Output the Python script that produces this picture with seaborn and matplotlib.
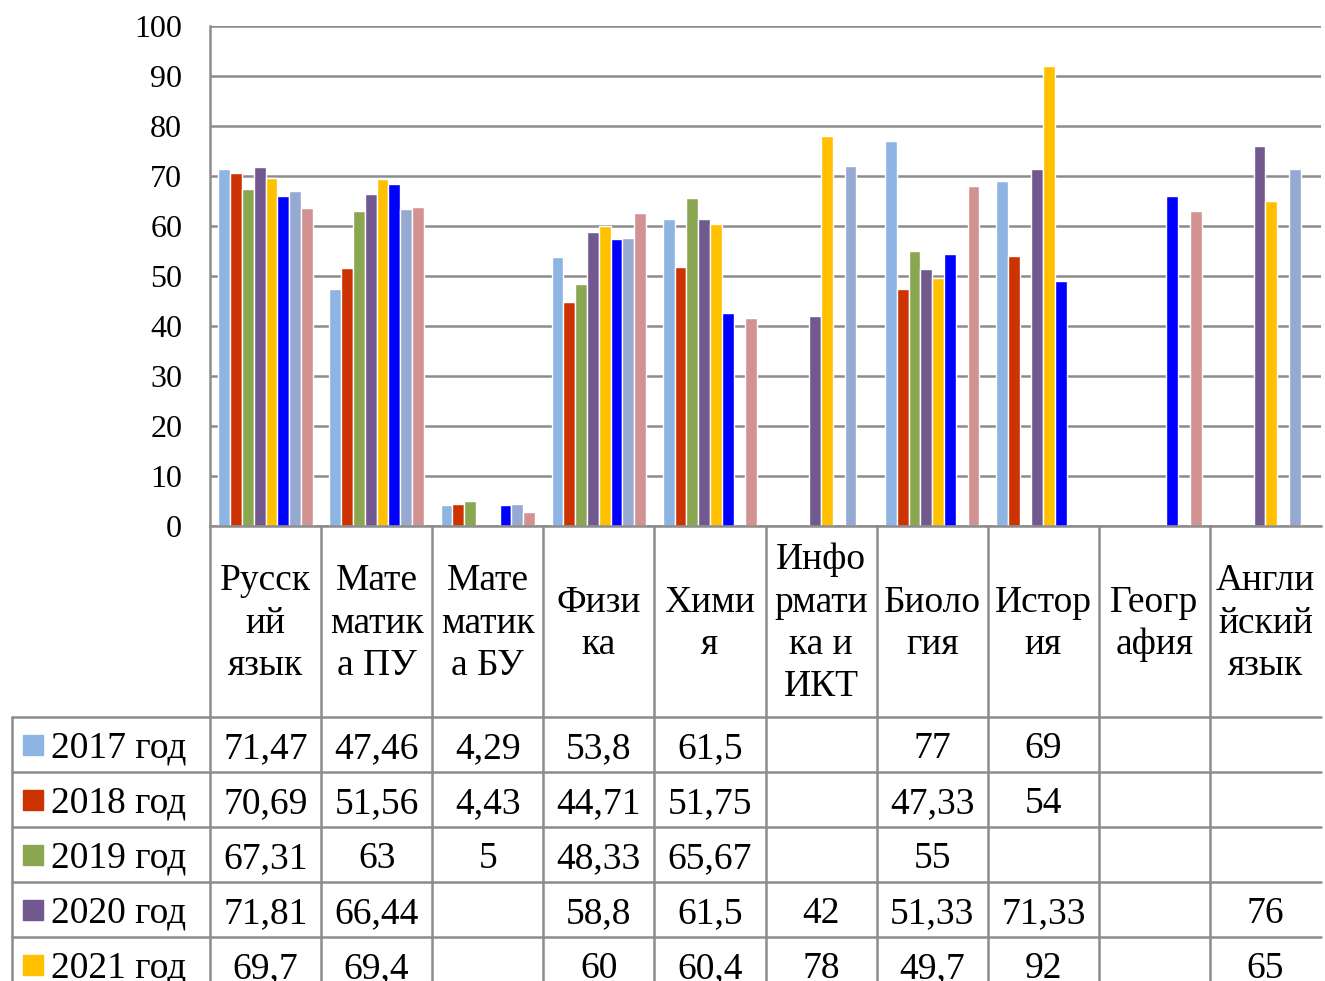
import numpy as np
import pandas as pd
import seaborn as sns
import matplotlib.pyplot as plt
from matplotlib.lines import Line2D
from matplotlib.patches import Rectangle

nan = np.nan

subjects = ["Русский язык", "Математика ПУ", "Математика БУ", "Физика", "Химия",
            "Информатика и ИКТ", "Биология", "История", "География", "Английский язык"]
# wrapped the way the table cells break them
header_labels = ["Русск\nий\nязык", "Мате\nматик\nа ПУ", "Мате\nматик\nа БУ", "Физи\nка", "Хими\nя",
                 "Инфо\nрмати\nка и\nИКТ", "Биоло\nгия", "Истор\nия", "Геогр\nафия", "Англи\nйский\nязык"]
years = ["2017 год", "2018 год", "2019 год", "2020 год", "2021 год", "2022 год", "2023 год", "2024 год"]

v2017 = [71.47, 47.46, 4.29, 53.8, 61.5, nan, 77, 69, nan, nan]
v2018 = [70.69, 51.56, 4.43, 44.71, 51.75, nan, 47.33, 54, nan, nan]
v2019 = [67.31, 63, 5, 48.33, 65.67, nan, 55, nan, nan, nan]
v2020 = [71.81, 66.44, nan, 58.8, 61.5, 42, 51.33, 71.33, nan, 76]
v2021 = [69.7, 69.4, nan, 60, 60.4, 78, 49.7, 92, nan, 65]
v2022 = [66, 68.4, 4.2, 57.5, 42.6, nan, 54.4, 49, 66, nan]
v2023 = [67, 63.4, 4.4, 57.7, nan, 72, nan, nan, nan, 71.5]
v2024 = [63.7, 63.8, 2.8, 62.7, 41.7, nan, 68, nan, 63, nan]
values = [v2017, v2018, v2019, v2020, v2021, v2022, v2023, v2024]

colors = ["#8EB4E3", "#CC3300", "#8BA650", "#71588F", "#FFC000", "#0000FF", "#95A9D1", "#D39292"]

rows = []
for yr, vals in zip(years, values):
    for s, v in zip(subjects, vals):
        rows.append({"Предмет": s, "Год": yr, "Балл": v})
df = pd.DataFrame(rows).dropna()

W, H = 1325, 981
sns.set_theme(style="white")
plt.rcParams['font.family'] = ['Liberation Serif', 'DejaVu Serif']
fig = plt.figure(figsize=(W / 100, H / 100), dpi=100)

left, right, top, bottom = 210, 1321, 26, 526
ax = fig.add_axes([left / W, 1 - bottom / H, (right - left) / W, (bottom - top) / H])

sns.barplot(data=df, x="Предмет", y="Балл", hue="Год", order=subjects, hue_order=years,
            palette=colors, width=0.85, gap=0, saturation=1, errorbar=None, legend=False, ax=ax)

grid_c = "#8C8C8C"
ax.set_xlim(-0.5, len(subjects) - 0.5)
ax.set_ylim(0, 100)
ax.set_yticks(range(0, 101, 10))
ax.yaxis.grid(True, color=grid_c, lw=1.8)
ax.set_axisbelow(True)
ax.tick_params(axis="y", length=0, pad=20, labelsize=23, colors="black")
ax.set_xticks([])
ax.set_xlabel("")
ax.set_ylabel("")
for side in ["top", "right"]:
    ax.spines[side].set_visible(False)
for side in ["left", "bottom"]:
    ax.spines[side].set_color(grid_c)
    ax.spines[side].set_linewidth(1.8)


def fx(x):
    return x / W


def fy(y):
    return 1 - y / H


# data table under the chart (the picture cuts it after the 2021 row)
col_w = (right - left) / len(subjects)
col_edges = [left + i * col_w for i in range(len(subjects) + 1)]
hdr_bottom = 717
row_h = 55
tbl_left = 12
n_rows = len(years)
tbl_bottom = hdr_bottom + row_h * n_rows

for x in col_edges[:-1]:
    fig.add_artist(Line2D([fx(x), fx(x)], [fy(bottom), fy(tbl_bottom)], color=grid_c, lw=1.8))
fig.add_artist(Line2D([fx(tbl_left), fx(tbl_left)], [fy(hdr_bottom), fy(tbl_bottom)], color=grid_c, lw=1.8))
for i in range(n_rows + 1):
    y = hdr_bottom + i * row_h
    fig.add_artist(Line2D([fx(tbl_left), fx(right)], [fy(y), fy(y)], color=grid_c, lw=1.8))

for i, lab in enumerate(header_labels):
    cx = (col_edges[i] + col_edges[i + 1]) / 2
    fig.text(fx(cx), fy((bottom + hdr_bottom) / 2 + 2), lab, ha="center", va="center",
             multialignment="center", fontsize=27, linespacing=1.3, color="black")

for r, (yr, vals, c) in enumerate(zip(years, values, colors)):
    cy = hdr_bottom + r * row_h + row_h / 2
    fig.add_artist(Rectangle((fx(23), fy(cy + 10)), 20 / W, 20 / H, color=c, transform=fig.transFigure))
    fig.text(fx(51), fy(cy), yr, ha="left", va="center_baseline", fontsize=27, color="black")
    for i, v in enumerate(vals):
        if np.isnan(v):
            continue
        cx = (col_edges[i] + col_edges[i + 1]) / 2
        fig.text(fx(cx), fy(cy), f"{v:g}".replace(".", ","), ha="center", va="center_baseline",
                 fontsize=27, color="black")

fig.savefig("out.png", dpi=100)
